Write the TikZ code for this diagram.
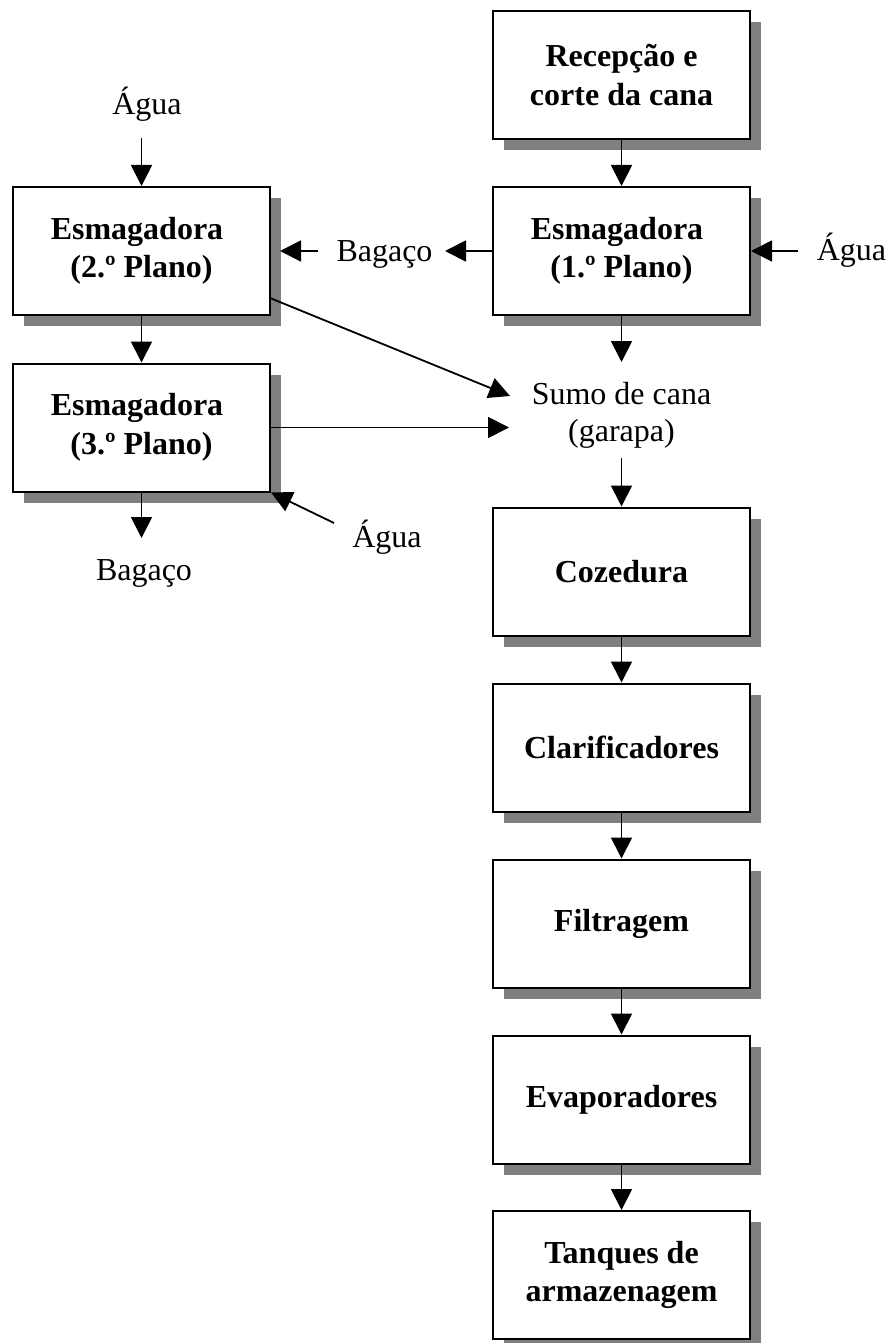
\documentclass[tikz,border=0pt]{standalone}
\usepackage{fontspec}
\setmainfont{Liberation Serif}
\usetikzlibrary{arrows.meta,shadows}
\definecolor{shadowgray}{RGB}{128,128,128}
\tikzset{
  stagebox/.style={draw, line width=2pt, fill=white, minimum width=257pt,
    minimum height=128pt, inner sep=0pt, align=center,
    font=\fontsize{32}{38.5}\selectfont\bfseries,
    drop shadow={shadow xshift=11pt, shadow yshift=-11pt, fill=shadowgray, opacity=1}},
  label/.style={inner sep=0pt, align=center, font=\fontsize{32}{37}\selectfont},
  flow/.style={line width=1.8pt, -{Triangle[length=21pt,width=21pt]}}
}
\begin{document}
\begin{tikzpicture}[x=1pt,y=-1pt]
\useasboundingbox (0,0) rectangle (891,1343);

% main processing line
\node[stagebox] (rec)   at (621.5,75)    {Recepção e\\corte da cana};
\node[stagebox] (esm1)  at (621.5,251)   {Esmagadora\hspace*{9pt}\\(1.º Plano)};
\node[stagebox] (coz)   at (621.5,571.5) {Cozedura};
\node[stagebox] (clar)  at (621.5,747.5) {Clarificadores};
\node[stagebox] (filt)  at (621.5,923.5) {Filtragem};
\node[stagebox] (evap)  at (621.5,1099.5){Evaporadores};
\node[stagebox] (tanq)  at (621.5,1275)  {Tanques de\\armazenagem};

% secondary crushers
\node[stagebox] (esm2)  at (141.5,251)   {Esmagadora\hspace*{9pt}\\(2.º Plano)};
\node[stagebox] (esm3)  at (141.5,427.5) {Esmagadora\hspace*{9pt}\\(3.º Plano)};

% free labels
\node[label, anchor=base] (aguaA) at (147,115)  {Água};
\node[label, anchor=base] (bagA)  at (384.5,261) {Bagaço};
\node[label, anchor=base] (aguaB) at (851.5,260) {Água};
\node[label] (sumo) at (621.5,415) {Sumo de cana\\(garapa)};
\node[label, anchor=base] (aguaC) at (387,547)  {Água};
\node[label, anchor=base] (bagB)  at (144,580)  {Bagaço};

% connector end points
\coordinate (aguaAend) at (141.5,138);
\coordinate (bagAin)   at (445,251);
\coordinate (bagAout)  at (318,251);
\coordinate (esm2in)   at (280,251);
\coordinate (aguaBend) at (798,251);
\coordinate (sumoTop)  at (621.5,362);
\coordinate (sumoBot)  at (621.5,458);
\coordinate (esm2out)  at (270,298);
\coordinate (sumoD)    at (510,396);
\coordinate (sumoH)    at (509,427.5);
\coordinate (aguaCend) at (334,523);
\coordinate (bagBtip)  at (141.5,538);

% flows
\draw[flow] (rec.south) -- (esm1.north);
\draw[flow] (esm1.south) -- (sumoTop);
\draw[flow] (sumoBot) -- (coz.north);
\draw[flow] (coz.south) -- (clar.north);
\draw[flow] (clar.south) -- (filt.north);
\draw[flow] (filt.south) -- (evap.north);
\draw[flow] (evap.south) -- (tanq.north);

\draw[flow] (esm1.west) -- (bagAin);
\draw[flow] (bagAout) -- (esm2in);
\draw[flow] (aguaBend) -- (esm1.east);

\draw[flow] (aguaAend) -- (esm2.north);
\draw[flow] (esm2.south) -- (esm3.north);
\draw[flow] (esm3.south) -- (bagBtip);
\draw[flow] (esm2out) -- (sumoD);
\draw[flow] (esm3.east) -- (sumoH);
\draw[flow] (aguaCend) -- (esm3.south east);
\end{tikzpicture}
\end{document}
